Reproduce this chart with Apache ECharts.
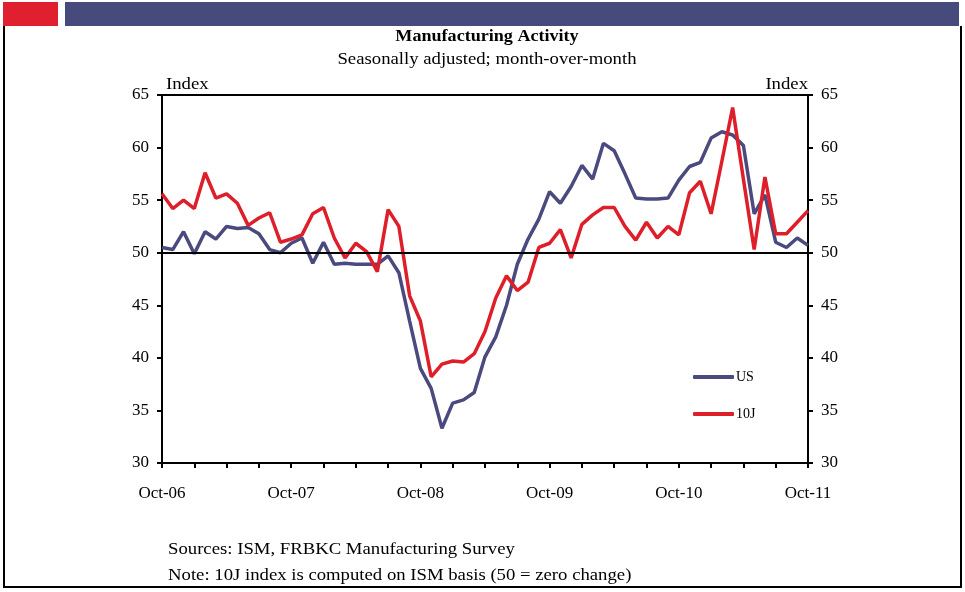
<!DOCTYPE html>
<html>
<head>
<meta charset="utf-8">
<script src="https://cdn.jsdelivr.net/npm/echarts@6/dist/echarts.min.js"></script>
<style>
html,body{margin:0;padding:0;background:#fff;}
#c{width:965px;height:592px;}
</style>
</head>
<body>
<div id="c"></div>
<script>
const monthNames = ["Jan","Feb","Mar","Apr","May","Jun","Jul","Aug","Sep","Oct","Nov","Dec"];
const categories = [];
for (let y = 2006, m = 9; categories.length < 61; ) {
  categories.push(monthNames[m] + "-" + String(y % 100).padStart(2, "0"));
  m++; if (m === 12) { m = 0; y++; }
}
const usValues = [
  50.5, 50.3, 52.0, 49.9, 52.0, 51.3, 52.5, 52.3, 52.4, 51.8,
  50.3, 50.0, 50.9, 51.4, 49.0, 51.0, 48.9, 49.0, 48.9, 48.9,
  48.9, 49.7, 48.1, 43.5, 39.0, 37.1, 33.3, 35.7, 36.0, 36.7,
  40.1, 42.0, 45.0, 48.9, 51.3, 53.2, 55.8, 54.7, 56.3, 58.3,
  57.0, 60.4, 59.7, 57.5, 55.2, 55.1, 55.1, 55.2, 56.9, 58.2,
  58.6, 60.9, 61.5, 61.2, 60.2, 53.7, 55.5, 51.0, 50.5, 51.4, 50.7
];
const tenJValues = [
  55.6, 54.2, 55.0, 54.2, 57.6, 55.2, 55.6, 54.7, 52.6, 53.3,
  53.8, 51.0, 51.3, 51.7, 53.7, 54.3, 51.4, 49.5, 50.9, 50.1,
  48.2, 54.1, 52.5, 45.9, 43.5, 38.2, 39.4, 39.7, 39.6, 40.4,
  42.5, 45.7, 47.8, 46.4, 47.2, 50.5, 50.9, 52.2, 49.5, 52.7,
  53.6, 54.3, 54.3, 52.5, 51.2, 52.9, 51.4, 52.5, 51.7, 55.7,
  56.8, 53.7, 58.7, 63.8, 57.0, 50.3, 57.2, 51.8, 51.8, 52.9, 54.0
];
const yTicks = { min: 30, max: 65, interval: 5 };
const seriesNames = ["US", "10J"];
const titleText = "Manufacturing Activity";
const subtitleText = "Seasonally adjusted; month-over-month";
const footerLines = ["Sources: ISM, FRBKC Manufacturing Survey", "Note: 10J index is computed on ISM basis (50 = zero change)"];

const FONT = "'Liberation Serif', 'Times New Roman', serif";
const BLUE = "#4a4a7e";
const RED = "#de1f2a";

const chart = echarts.init(document.getElementById("c"), null, { renderer: "canvas" });

const yAxisBase = {
  type: "value",
  min: yTicks.min, max: yTicks.max, interval: yTicks.interval,
  axisLine: { show: true, lineStyle: { color: "#000", width: 2 } },
  axisTick: { show: true, inside: false, length: 5, lineStyle: { color: "#000", width: 2 } },
  axisLabel: { color: "#000", fontFamily: FONT, fontSize: 17, margin: 13 },
  splitLine: { show: false }
};

function txt(x, y, text, opts) {
  return {
    type: "text", x: x, y: y, scaleX: opts.scaleX || 1.17,
    style: { text: text, font: (opts.bold ? "bold " : "") + (opts.size || 16) + "px " + FONT,
      fill: "#000", textAlign: opts.align || "left", textVerticalAlign: "middle" }
  };
}

chart.setOption({
  animation: false,
  backgroundColor: "#fff",
  grid: { left: 162, right: 157, top: 95, bottom: 129, show: true, borderColor: "#000", borderWidth: 2, backgroundColor: "transparent" },
  legend: {
    orient: "vertical",
    left: 688, top: 365,
    itemWidth: 41, itemHeight: 4, itemGap: 23,
    icon: "roundRect",
    textStyle: { fontFamily: FONT, fontSize: 14, color: "#000", padding: [0, 0, 0, -3] },
    data: seriesNames
  },
  xAxis: {
    type: "category",
    data: categories,
    boundaryGap: false,
    axisLine: { show: true, lineStyle: { color: "#000", width: 2 } },
    axisTick: { show: true, inside: false, length: 5, lineStyle: { color: "#000", width: 2 },
      interval: function (i) { return i % 3 === 0; } },
    axisLabel: { color: "#000", fontFamily: FONT, fontSize: 17, margin: 22,
      interval: function (i) { return i % 12 === 0; } },
    splitLine: { show: false }
  },
  yAxis: [
    Object.assign({}, yAxisBase, { position: "left" }),
    Object.assign({}, yAxisBase, { position: "right" })
  ],
  series: [
    {
      name: seriesNames[0], type: "line", data: usValues, yAxisIndex: 0,
      symbol: "none", lineStyle: { color: BLUE, width: 3.5 }, itemStyle: { color: BLUE },
      z: 3,
      markLine: {
        silent: true, symbol: "none", label: { show: false },
        lineStyle: { color: "#000", width: 2, type: "solid" },
        data: [{ yAxis: 50 }]
      }
    },
    {
      name: seriesNames[1], type: "line", data: tenJValues, yAxisIndex: 0,
      symbol: "none", lineStyle: { color: RED, width: 3.5 }, itemStyle: { color: RED },
      z: 4
    }
  ],
  graphic: [
    { type: "rect", shape: { x: 3, y: 2, width: 55, height: 24 }, style: { fill: "#e0202e" } },
    { type: "rect", shape: { x: 65, y: 2, width: 894, height: 24 }, style: { fill: "#474b7b" } },
    { type: "line", shape: { x1: 4, y1: 26, x2: 4, y2: 588 }, style: { stroke: "#000", lineWidth: 2 } },
    { type: "line", shape: { x1: 961, y1: 26, x2: 961, y2: 588 }, style: { stroke: "#000", lineWidth: 2 } },
    { type: "line", shape: { x1: 3, y1: 587, x2: 962, y2: 587 }, style: { stroke: "#000", lineWidth: 2 } },
    txt(487, 37, titleText, { bold: true, size: 16, align: "center", scaleX: 1.13 }),
    txt(487, 60, subtitleText, { size: 16, align: "center" }),
    txt(166, 85, "Index", { size: 16 }),
    txt(808, 85, "Index", { size: 16, align: "right" }),
    txt(168, 550, footerLines[0], { size: 16 }),
    txt(168, 576, footerLines[1], { size: 16 })
  ]
});
</script>
</body>
</html>
